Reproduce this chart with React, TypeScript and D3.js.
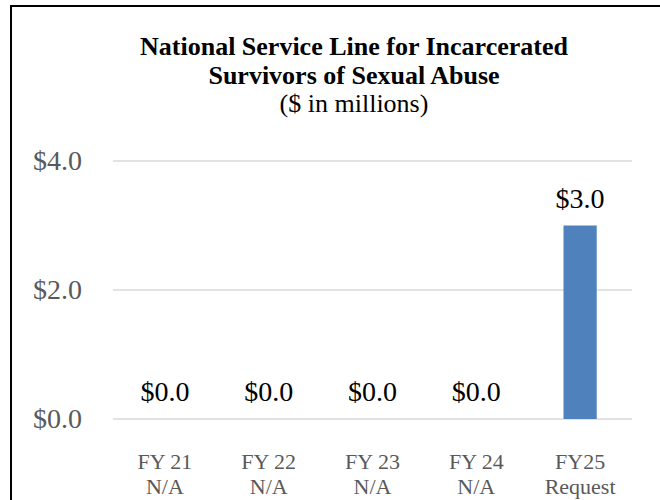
import React from "react";
import * as d3 from "d3";

const categories = ["FY 21|N/A", "FY 22|N/A", "FY 23|N/A", "FY 24|N/A", "FY25|Request"];
const values = [0, 0, 0, 0, 3.0];
const yTicks = [0, 2, 4];
const titleLines = ["National Service Line for Incarcerated", "Survivors of Sexual Abuse"];
const subtitle = "($ in millions)";

export default function App() {
  const W = 660, H = 500;
  const left = 113, right = 632, top = 161, bottom = 419;
  const x = d3.scaleBand<string>().domain(categories).range([left, right]).paddingInner(0.68).paddingOuter(0.34);
  const y = d3.scaleLinear().domain([0, 4]).range([bottom, top]);
  const font = "'Liberation Serif', 'Times New Roman', serif";
  const fmt = (v: number) => "$" + d3.format(".1f")(v);
  const tx = 354;
  return (
    <svg width={W} height={H} style={{ position: "absolute", left: 0, top: 0, display: "block" }} fontFamily={font}>
      <rect x={0} y={0} width={W} height={H} fill="#fff" />
      <line x1={11} y1={5} x2={11} y2={H} stroke="#000" strokeWidth={2} />
      <line x1={10} y1={6} x2={W} y2={6} stroke="#000" strokeWidth={2} />
      <g textAnchor="middle" fill="#000">
        <text x={tx} y={55} fontSize={26} fontWeight="bold">{titleLines[0]}</text>
        <text x={tx} y={84} fontSize={26} fontWeight="bold">{titleLines[1]}</text>
        <text x={tx} y={112} fontSize={26}>{subtitle}</text>
      </g>
      {yTicks.map((t) => (
        <g key={t}>
          <line x1={left} x2={right} y1={y(t)} y2={y(t)} stroke="#d9d9d9" strokeWidth={1.5} />
          <text x={82} y={y(t) + 9} textAnchor="end" fontSize={28} fill="#595959">{fmt(t)}</text>
        </g>
      ))}
      {categories.map((c, i) => {
        const bx = x(c)!;
        const cx = bx + x.bandwidth() / 2;
        const [l1, l2] = c.split("|");
        return (
          <g key={c}>
            {values[i] > 0 && (
              <rect x={bx} y={y(values[i])} width={x.bandwidth()} height={y(0) - y(values[i])} fill="#4f81bd" />
            )}
            <text x={cx} y={y(values[i]) - 18} textAnchor="middle" fontSize={28} fill="#000">{fmt(values[i])}</text>
            <text x={cx} y={469} textAnchor="middle" fontSize={22} fill="#595959">{l1}</text>
            <text x={cx} y={494} textAnchor="middle" fontSize={22} fill="#595959">{l2}</text>
          </g>
        );
      })}
    </svg>
  );
}
